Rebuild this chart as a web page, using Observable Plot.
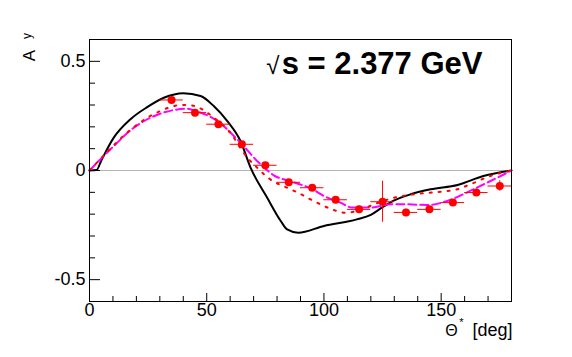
<!DOCTYPE html>
<html>
<head>
<meta charset="utf-8">
<script src="https://cdn.jsdelivr.net/npm/d3@7"></script>
<script src="https://cdn.jsdelivr.net/npm/@observablehq/plot@0.6"></script>
<style>
  html, body { margin: 0; padding: 0; background: #fff; }
</style>
</head>
<body>
<div id="chart"></div>
<script>
// ---- data points (A_y vs Theta*) ----
const pointTheta = [35, 45, 55, 65, 75, 85, 95, 105, 115, 125, 135, 145, 155, 165, 175];
const pointAy    = [0.323, 0.265, 0.212, 0.120, 0.024, -0.054, -0.079, -0.134, -0.178, -0.143, -0.192, -0.178, -0.147, -0.101, -0.071];
const pointErr   = [0.012, 0.012, 0.012, 0.012, 0.012, 0.012, 0.012, 0.012, 0.015, 0.094, 0.015, 0.012, 0.012, 0.015, 0.024];
const binHalfWidth = 5;

// ---- model curves ----
const solidTheta = [0, 3, 5, 10, 17.5, 24.6, 31.7, 40, 47.4, 53, 58.7, 64.4, 68.7, 75.8, 81.5, 84.3, 89, 100, 114, 120, 125, 130, 137, 145.5, 157, 168, 180];
const solidAy    = [0, 0.002, 0.045, 0.145, 0.235, 0.29, 0.333, 0.354, 0.341, 0.295, 0.227, 0.135, 0.013, -0.125, -0.23, -0.27, -0.285, -0.254, -0.224, -0.203, -0.168, -0.137, -0.109, -0.086, -0.066, -0.025, 0];

const dashTheta = [0, 9.6, 18.9, 26.7, 36, 41.7, 45.2, 54.5, 63, 73, 78.6, 85.8, 95, 100, 107, 112, 120, 128.4, 134.8, 144, 152.6, 161.1, 168.2, 178.2, 180];
const dashAy    = [0, 0.104, 0.196, 0.245, 0.277, 0.283, 0.273, 0.227, 0.143, 0.028, -0.022, -0.05, -0.085, -0.117, -0.147, -0.17, -0.17, -0.155, -0.155, -0.158, -0.14, -0.1, -0.063, -0.01, 0];

const dotTheta = [0, 8, 16, 26, 30.3, 33.8, 38.8, 43.1, 46.6, 53, 59.4, 67.3, 71.5, 76.5, 84.3, 88.6, 95.7, 103.5, 108.5, 114.2, 121.3, 129.9, 138.4, 149.7, 156.9, 162.5, 171, 180];
const dotAy    = [0, 0.09, 0.173, 0.25, 0.273, 0.288, 0.3, 0.299, 0.288, 0.242, 0.181, 0.059, 0.013, -0.036, -0.079, -0.1, -0.14, -0.178, -0.193, -0.186, -0.155, -0.125, -0.109, -0.097, -0.086, -0.063, -0.025, 0];

// ---- ticks / labels ----
const xMajor = [0, 50, 100, 150];
const xMinor = [10, 20, 30, 40, 60, 70, 80, 90, 110, 120, 130, 140, 160, 170];
const yMajor = [-0.5, 0, 0.5];
const yMinor = [-0.4, -0.3, -0.2, -0.1, 0.1, 0.2, 0.3, 0.4];
const energyLabel = "s = 2.377 GeV";

const points = pointTheta.map((t, i) => ({theta: t, ay: pointAy[i], err: pointErr[i]}));
const solid = solidTheta.map((t, i) => ({theta: t, ay: solidAy[i]}));
const dashed = dashTheta.map((t, i) => ({theta: t, ay: dashAy[i]}));
const dotted = dotTheta.map((t, i) => ({theta: t, ay: dotAy[i]}));

const font = "'Liberation Sans', Arial, Helvetica, sans-serif";

const chart = Plot.plot({
  width: 572,
  height: 357,
  marginLeft: 89,
  marginRight: 61,
  marginTop: 39,
  marginBottom: 56,
  style: {fontFamily: font, fontSize: "18px", color: "black", background: "white"},
  x: {domain: [0, 180], axis: null, label: null},
  y: {domain: [-0.6, 0.6], axis: null, label: null},
  marks: [
    Plot.ruleY([0], {stroke: "#b4b4b4", strokeWidth: 1}),
    Plot.line(solid, {x: "theta", y: "ay", stroke: "black", strokeWidth: 2, curve: "monotone-x"}),
    Plot.line(dashed, {x: "theta", y: "ay", stroke: "#ff00ff", strokeWidth: 2, strokeDasharray: "8,4", curve: "monotone-x"}),
    Plot.line(dotted, {x: "theta", y: "ay", stroke: "#ff0000", strokeWidth: 2, strokeDasharray: "2,7", curve: "monotone-x"}),
    Plot.ruleY(points, {y: "ay", x1: d => d.theta - binHalfWidth, x2: d => d.theta + binHalfWidth, stroke: "#ff0000", strokeWidth: 1}),
    Plot.ruleX(points, {x: "theta", y1: d => d.ay - d.err, y2: d => d.ay + d.err, stroke: "#ff0000", strokeWidth: 1}),
    Plot.dot(points, {x: "theta", y: "ay", r: 4, fill: "#ff0000", stroke: "none"}),
    Plot.frame({stroke: "black", strokeWidth: 1}),
    Plot.axisX({ticks: xMajor, tickSize: -8, tickPadding: 10, fontSize: 18, label: null, tickFormat: d => String(d)}),
    Plot.axisX({ticks: xMinor, tickSize: -5, label: null, tickFormat: () => ""}),
    Plot.axisY({ticks: yMajor, tickSize: -11, tickPadding: 15, fontSize: 18, label: null, tickFormat: d => String(d)}),
    Plot.axisY({ticks: yMinor, tickSize: -6, label: null, tickFormat: () => ""}),
    // energy annotation
    Plot.text([energyLabel], {frameAnchor: "top-right", dx: -29, dy: 34, textAnchor: "end", lineAnchor: "bottom", fontSize: 31, fontWeight: "bold", fill: "black"}),
    Plot.text(["√"], {frameAnchor: "top-right", dx: -232, dy: 34, textAnchor: "end", lineAnchor: "bottom", fontSize: 24, fill: "black"}),
    // y title A_y
    Plot.text(["A"], {frameAnchor: "top-left", dx: -59.5, dy: 10.5, rotate: -90, textAnchor: "end", lineAnchor: "middle", fontSize: 17, fill: "black"}),
    Plot.text(["y"], {frameAnchor: "top-left", dx: -62.5, dy: -6.5, rotate: -90, textAnchor: "end", lineAnchor: "middle", fontSize: 12, fill: "black"}),
    // x title Theta* [deg]
    Plot.text(["[deg]"], {frameAnchor: "bottom-right", dx: 1, dy: 29, textAnchor: "end", lineAnchor: "middle", fontSize: 18, fill: "black"}),
    Plot.text(["Θ"], {frameAnchor: "bottom-right", dx: -60, dy: 29, textAnchor: "middle", lineAnchor: "middle", fontSize: 16, fill: "black"}),
    Plot.text(["*"], {frameAnchor: "bottom-right", dx: -50, dy: 21, textAnchor: "middle", lineAnchor: "middle", fontSize: 11, fill: "black"})
  ]
});
document.getElementById("chart").appendChild(chart);
</script>
</body>
</html>
